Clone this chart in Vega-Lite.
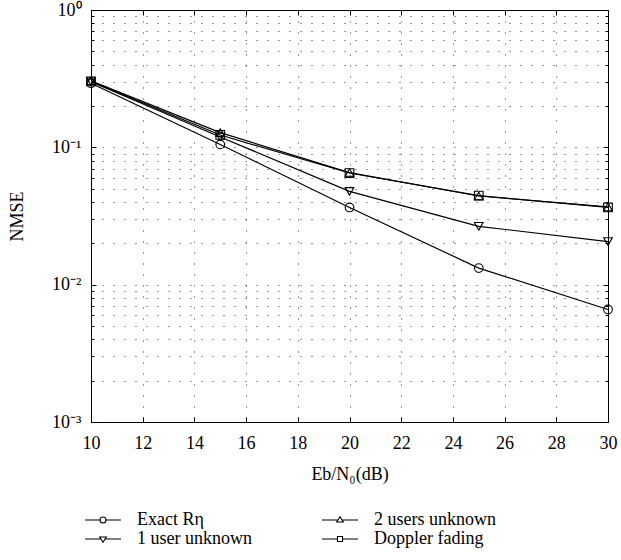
{
  "$schema": "https://vega.github.io/schema/vega-lite/v6.json",
  "width": 517,
  "height": 412,
  "autosize": "none",
  "padding": {"left": 91, "top": 10, "right": 13, "bottom": 138},
  "background": "white",
  "config": {
    "view": {"stroke": "black", "strokeWidth": 1},
    "font": "Liberation Serif",
    "axis": {
      "labelFont": "Liberation Serif",
      "labelFontSize": 18,
      "labelColor": "black",
      "titleFont": "Liberation Serif",
      "titleFontSize": 18,
      "titleFontWeight": "normal",
      "titleColor": "black",
      "tickColor": "black",
      "domainColor": "black",
      "gridColor": "black",
      "gridDash": [1, 10],
      "gridWidth": 1,
      "gridOpacity": 0.8
    },
    "legend": {
      "labelFont": "Liberation Serif",
      "labelFontSize": 18,
      "labelColor": "black",
      "padding": 0
    }
  },
  "resolve": {"scale": {"shape": "independent"}, "legend": {"shape": "independent"}},
  "data": {
    "values": [
      {"x": 10, "v": 0.293, "s": "Exact Rη"},
      {"x": 15, "v": 0.105, "s": "Exact Rη"},
      {"x": 20, "v": 0.0365, "s": "Exact Rη"},
      {"x": 25, "v": 0.0132, "s": "Exact Rη"},
      {"x": 30, "v": 0.0066, "s": "Exact Rη"},
      {"x": 10, "v": 0.3, "s": "1 user unknown"},
      {"x": 15, "v": 0.119, "s": "1 user unknown"},
      {"x": 20, "v": 0.0478, "s": "1 user unknown"},
      {"x": 25, "v": 0.0266, "s": "1 user unknown"},
      {"x": 30, "v": 0.0206, "s": "1 user unknown"},
      {"x": 10, "v": 0.305, "s": "2 users unknown"},
      {"x": 15, "v": 0.128, "s": "2 users unknown"},
      {"x": 20, "v": 0.0655, "s": "2 users unknown"},
      {"x": 25, "v": 0.0442, "s": "2 users unknown"},
      {"x": 30, "v": 0.0368, "s": "2 users unknown"},
      {"x": 10, "v": 0.302, "s": "Doppler fading"},
      {"x": 15, "v": 0.123, "s": "Doppler fading"},
      {"x": 20, "v": 0.065, "s": "Doppler fading"},
      {"x": 25, "v": 0.0445, "s": "Doppler fading"},
      {"x": 30, "v": 0.0365, "s": "Doppler fading"}
    ]
  },
  "layer": [
    {
      "mark": {"type": "line", "color": "black", "strokeWidth": 1.2},
      "encoding": {
        "x": {
          "field": "x", "type": "quantitative",
          "scale": {"domain": [10, 30], "nice": false, "zero": false},
          "axis": {
            "orient": "bottom",
            "values": [10, 12, 14, 16, 18, 20, 22, 24, 26, 28, 30],
            "grid": true,
            "tickSize": -5,
            "labelPadding": 17,
            "labelFont": "Liberation Serif",
            "labelFlush": false,
            "labelOverlap": false,
            "title": "Eb/N₀(dB)",
            "titleFont": "Liberation Serif",
            "titleY": 57,
            "titleBaseline": "alphabetic"
          }
        },
        "y": {
          "field": "v", "type": "quantitative",
          "scale": {"type": "log", "domain": [0.001, 1], "nice": false},
          "axis": {
            "orient": "left",
            "values": [0.001, 0.002, 0.003, 0.004, 0.005, 0.006, 0.007, 0.008, 0.009, 0.01, 0.02, 0.03, 0.04, 0.05, 0.06, 0.07, 0.08, 0.09, 0.1, 0.2, 0.3, 0.4, 0.5, 0.6, 0.7, 0.8, 0.9, 1],
            "labelExpr": "datum.value == 1 ? '10⁰' : datum.value == 0.1 ? '10⁻¹' : datum.value == 0.01 ? '10⁻²' : datum.value == 0.001 ? '10⁻³' : ''",
            "labelFont": "Liberation Serif",
            "grid": true,
            "tickSize": {"condition": {"test": "datum.value == 1 || datum.value == 0.1 || datum.value == 0.01 || datum.value == 0.001", "value": -5}, "value": -3},
            "labelPadding": 15,
            "labelFlush": false,
            "labelOverlap": false,
            "title": "NMSE",
            "titleFont": "Liberation Serif",
            "titleX": -74,
            "titleY": 206,
            "titleBaseline": "middle",
            "titleAngle": -90
          }
        },
        "detail": {"field": "s"}
      }
    },
    {
      "mark": {"type": "point", "filled": false, "color": "black", "strokeWidth": 1.1, "size": 75, "opacity": 1},
      "encoding": {
        "x": {"field": "x", "type": "quantitative", "axis": null},
        "y": {"field": "v", "type": "quantitative", "axis": null},
        "shape": {
          "field": "s", "type": "nominal",
          "scale": {
            "domain": ["Exact Rη", "2 users unknown", "1 user unknown", "Doppler fading"],
            "range": ["circle", "triangle-up", "triangle-down", "square"]
          },
          "legend": null
        }
      }
    },
    {
      "transform": [{"filter": "false"}],
      "mark": {"type": "point", "filled": false, "color": "black", "strokeWidth": 1.1, "opacity": 1},
      "encoding": {
        "x": {"field": "x", "type": "quantitative", "axis": null},
        "y": {"field": "v", "type": "quantitative", "axis": null},
        "shape": {
          "field": "s", "type": "nominal",
          "scale": {
            "domain": ["Exact Rη", "2 users unknown", "1 user unknown", "Doppler fading"],
            "range": [
              "M-2,0H-0.33M0.33,0H2M-0.33,0A0.33,0.33,0,1,0,0.33,0A0.33,0.33,0,1,0,-0.33,0",
              "M-2,0H-0.28M0.28,0H2M-0.37,0.22L0.37,0.22L0,-0.37Z",
              "M-2,0H-0.28M0.28,0H2M-0.37,-0.22L0.37,-0.22L0,0.37Z",
              "M-2,0H-0.28M0.28,0H2M-0.28,-0.28H0.28V0.28H-0.28Z"
            ]
          },
          "legend": {
            "orient": "none",
            "legendX": 2,
            "legendY": 500,
            "direction": "horizontal",
            "columns": 2,
            "title": null,
            "symbolSize": 324,
            "symbolStrokeColor": "black",
            "symbolStrokeWidth": 1.1,
            "symbolFillColor": "transparent",
            "symbolOpacity": 1,
            "labelFont": "Liberation Serif",
            "labelOffset": 24,
            "columnPadding": 67,
            "rowPadding": -1
          }
        }
      }
    },
    {
      "mark": {"type": "point", "opacity": 0},
      "encoding": {
        "x": {
          "field": "x", "type": "quantitative",
          "axis": {
            "orient": "top",
            "values": [10, 12, 14, 16, 18, 20, 22, 24, 26, 28, 30],
            "grid": false, "labels": false, "domain": false,
            "tickSize": -5, "title": null
          }
        },
        "y": {
          "field": "v", "type": "quantitative",
          "axis": {
            "orient": "right",
            "values": [0.001, 0.002, 0.003, 0.004, 0.005, 0.006, 0.007, 0.008, 0.009, 0.01, 0.02, 0.03, 0.04, 0.05, 0.06, 0.07, 0.08, 0.09, 0.1, 0.2, 0.3, 0.4, 0.5, 0.6, 0.7, 0.8, 0.9, 1],
            "grid": false, "labels": false, "domain": false,
            "tickSize": {"condition": {"test": "datum.value == 1 || datum.value == 0.1 || datum.value == 0.01 || datum.value == 0.001", "value": -5}, "value": -3},
            "title": null
          }
        }
      }
    }
  ]
}
